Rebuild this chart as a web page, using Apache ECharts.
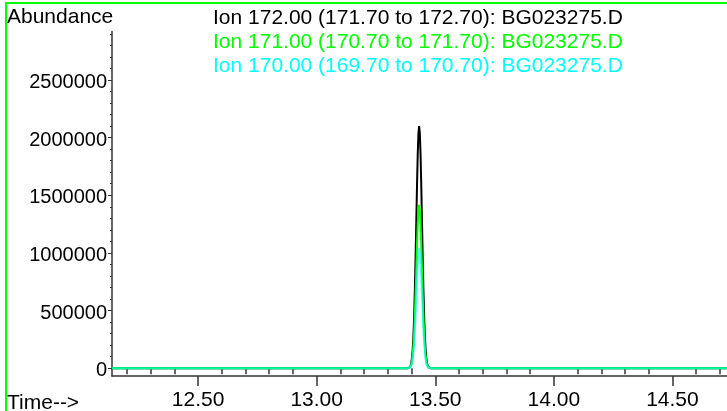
<!DOCTYPE html>
<html><head><meta charset="utf-8">
<script src="https://cdn.jsdelivr.net/npm/echarts@6/dist/echarts.min.js"></script>
<style>
html,body{margin:0;padding:0;background:#fff;overflow:hidden;}
#c{position:absolute;left:0;top:0;width:727px;height:411px;}
#f{position:absolute;left:5px;top:2px;width:740px;height:430px;border-left:2px solid #00ff00;border-top:2px solid #00ff00;pointer-events:none;}
</style>
</head><body><div id="c"></div><div id="f"></div>
<script>
// ---- data ----
const legendTexts = [
  "Ion 172.00 (171.70 to 172.70): BG023275.D",
  "Ion 171.00 (170.70 to 171.70): BG023275.D",
  "Ion 170.00 (169.70 to 170.70): BG023275.D"
];
const seriesColors = ["#000000", "#00ff00", "#00ffff"];

const peakTimes = [12.137, 13.381, 13.390, 13.393, 13.396, 13.399, 13.402, 13.405, 13.408, 13.411,
  13.414, 13.417, 13.420, 13.423, 13.426, 13.429, 13.432, 13.435, 13.438, 13.441,
  13.444, 13.447, 13.450, 13.453, 13.456, 13.459, 13.462, 13.465, 13.468, 13.471, 13.474, 13.483, 14.730];

const ion172 = [0, 0, 5000, 11000, 23000, 48000, 92000, 167000, 284000, 454000,
  682000, 962000, 1274000, 1585000, 1853000, 2035000, 2100000, 2035000, 1850000, 1580000,
  1270000, 960000, 680000, 455000, 285000, 168000, 93000, 49000, 24000, 11000, 5000, 0, 0];

const ion171Times = [12.137, 13.238, 13.243, 13.248, 13.314, 13.319, 13.324, 13.381, 13.390, 13.393, 13.396, 13.399, 13.402, 13.405, 13.408, 13.411,
  13.414, 13.417, 13.420, 13.423, 13.426, 13.429, 13.432, 13.435, 13.438, 13.441,
  13.444, 13.447, 13.450, 13.453, 13.456, 13.459, 13.462, 13.465, 13.468, 13.471, 13.474, 13.483, 14.730];
const ion171 = [0, 0, 9000, 0, 0, 9000, 0, 0, 3000, 7000, 15000, 32000, 62000, 113000, 192000, 306000,
  460000, 650000, 860000, 1070000, 1250000, 1373000, 1417000, 1373000, 1249000, 1066000,
  857000, 648000, 459000, 307000, 192000, 113000, 63000, 33000, 16000, 7000, 3000, 0, 0];

const ion170 = [0, 0, 2500, 5500, 11000, 24000, 46000, 83000, 141000, 225000,
  338000, 477000, 632000, 786000, 919000, 1009000, 1042000, 1009000, 918000, 784000,
  630000, 476000, 337000, 226000, 141000, 83000, 46000, 24000, 12000, 5500, 2500, 0, 0];

const xMajorTicks = [12.5, 13.0, 13.5, 14.0, 14.5];
const xMinorTicks = [12.2, 12.3, 12.4, 12.6, 12.7, 12.8, 12.9, 13.1, 13.2, 13.3, 13.4, 13.6, 13.7, 13.8, 13.9, 14.1, 14.2, 14.3, 14.4, 14.6, 14.7];
const yMajorTicks = [0, 500000, 1000000, 1500000, 2000000, 2500000];
const yMinorTicks = [100000, 200000, 300000, 400000, 600000, 700000, 800000, 900000, 1100000, 1200000, 1300000, 1400000,
  1600000, 1700000, 1800000, 1900000, 2100000, 2200000, 2300000, 2400000, 2600000, 2700000, 2800000, 2900000];

// ---- chart ----
const FONT = "Liberation Sans, Arial, sans-serif";
const X_MIN = 12.137, X_MAX = 14.73, Y_MIN = -67000, Y_MAX = 2920000;
const axisColor = "#333";

function zip(xs, ys) { return xs.map((x, i) => [x, ys[i]]); }

const chart = echarts.init(document.getElementById('c'), null, {renderer: 'canvas'});
const baseX = {type: 'value', min: X_MIN, max: X_MAX, gridIndex: 0, position: 'bottom', splitLine: {show: false}};
const baseY = {type: 'value', min: Y_MIN, max: Y_MAX, gridIndex: 0, position: 'left', splitLine: {show: false}};
const tStyle = c => ({color: c, fontSize: 21, fontWeight: 'normal', fontFamily: FONT});

chart.setOption({
  animation: false,
  backgroundColor: '#fff',
  title: [
    {text: legendTexts[0], left: 213, top: 8, padding: 0, textStyle: tStyle(seriesColors[0])},
    {text: legendTexts[1], left: 213, top: 32, padding: 0, textStyle: tStyle(seriesColors[1])},
    {text: legendTexts[2], left: 213, top: 56, padding: 0, textStyle: tStyle(seriesColors[2])},
    {text: "Abundance", left: 7, top: 7, padding: 0, textStyle: tStyle('#000')},
    {text: "Time-->", left: 7, top: 393, padding: 0, textStyle: tStyle('#000')}
  ],
  grid: {left: 112, right: 0, top: 31.5, bottom: 33, containLabel: false},
  xAxis: [
    Object.assign({}, baseX, {
      axisLine: {show: true, onZero: false, lineStyle: {color: axisColor, width: 1.5}},
      axisTick: {show: true, customValues: xMajorTicks, length: 10, lineStyle: {color: axisColor, width: 1.5}},
      axisLabel: {show: true, customValues: xMajorTicks, margin: 14, color: '#000', fontSize: 21, fontFamily: FONT,
        formatter: v => v.toFixed(2)}
    }),
    Object.assign({}, baseX, {
      axisLine: {show: false},
      axisTick: {show: true, customValues: xMinorTicks, length: 6, lineStyle: {color: axisColor, width: 1.5}},
      axisLabel: {show: false}
    })
  ],
  yAxis: [
    Object.assign({}, baseY, {
      axisLine: {show: true, onZero: false, lineStyle: {color: axisColor, width: 1.5}},
      axisTick: {show: true, customValues: yMajorTicks, length: 4, lineStyle: {color: axisColor, width: 1}},
      axisLabel: {show: true, customValues: yMajorTicks, margin: 5, color: '#000', fontSize: 20, fontFamily: FONT,
        formatter: v => '{a|' + String(v) + '}',
        rich: {a: {fontSize: 20, fontFamily: FONT, color: '#000', padding: [5, 0, 0, 0]}}}
    }),
    Object.assign({}, baseY, {
      axisLine: {show: false},
      axisTick: {show: true, customValues: yMinorTicks, length: 2, lineStyle: {color: axisColor, width: 1}},
      axisLabel: {show: false}
    })
  ],
  series: [
    {type: 'line', name: 'Ion 172', data: zip(peakTimes, ion172), xAxisIndex: 0, yAxisIndex: 0, showSymbol: false, symbol: 'none',
      lineStyle: {color: seriesColors[0], width: 2}, z: 2},
    {type: 'line', name: 'Ion 171', data: zip(ion171Times, ion171), xAxisIndex: 0, yAxisIndex: 0, showSymbol: false, symbol: 'none',
      lineStyle: {color: seriesColors[1], width: 2}, z: 3},
    {type: 'line', name: 'Ion 170', data: zip(peakTimes, ion170), xAxisIndex: 0, yAxisIndex: 0, showSymbol: false, symbol: 'none',
      lineStyle: {color: seriesColors[2], width: 2, opacity: 0.65}, z: 4}
  ]
});
</script>
</body></html>
